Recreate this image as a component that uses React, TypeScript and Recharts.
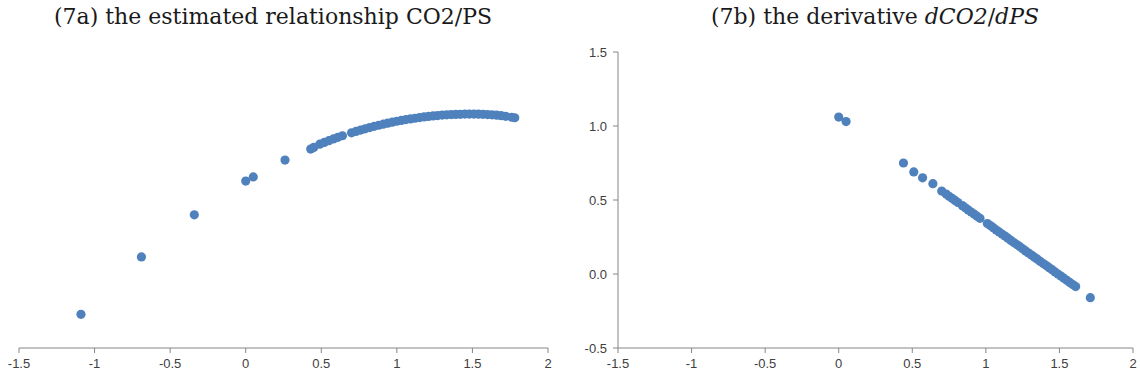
import { ScatterChart, Scatter, XAxis, YAxis } from 'recharts'

// (7a) estimated relationship CO2/PS
const psA = [
  -1.09, -0.69, -0.34, 0.0, 0.05, 0.26, 0.43, 0.45,
  0.49, 0.52, 0.55, 0.58, 0.61, 0.64,
  0.70, 0.73, 0.76, 0.79, 0.82, 0.85, 0.88, 0.91, 0.94, 0.97,
  1.0, 1.03, 1.06, 1.09, 1.12, 1.15, 1.18, 1.21, 1.24, 1.27,
  1.3, 1.33, 1.36, 1.39, 1.42, 1.45, 1.48, 1.51, 1.54, 1.57,
  1.6, 1.63, 1.66, 1.69, 1.72, 1.76, 1.78,
]
const co2A = [
  -1.6, -0.92, -0.42, -0.02, 0.03, 0.23, 0.36, 0.38,
  0.418, 0.439, 0.46, 0.48, 0.499, 0.518,
  0.553, 0.569, 0.585, 0.6, 0.615, 0.63, 0.643, 0.656, 0.668, 0.679,
  0.69, 0.7, 0.71, 0.718, 0.726, 0.734, 0.742, 0.748, 0.753, 0.758,
  0.763, 0.766, 0.769, 0.771, 0.773, 0.775, 0.775, 0.775, 0.774, 0.772,
  0.769, 0.766, 0.762, 0.756, 0.749, 0.738, 0.732,
]

// (7b) derivative dCO2/dPS
const psB = [
  0.0, 0.05, 0.44, 0.51, 0.57, 0.64, 0.7,
  0.73, 0.75, 0.77, 0.79, 0.81, 0.84, 0.86, 0.88, 0.9, 0.92, 0.94, 0.96,
  1.01, 1.03, 1.05, 1.07, 1.09, 1.11, 1.13, 1.15, 1.17, 1.19, 1.21, 1.23,
  1.25, 1.27, 1.29, 1.31, 1.33, 1.35, 1.37, 1.39, 1.41, 1.43, 1.45, 1.47,
  1.49, 1.51, 1.53, 1.55, 1.57, 1.59, 1.61, 1.71,
]
const dB = [
  1.06, 1.03, 0.75, 0.69, 0.65, 0.61, 0.56,
  0.54, 0.525, 0.511, 0.497, 0.483, 0.462, 0.447, 0.433, 0.419, 0.405, 0.391, 0.376,
  0.341, 0.327, 0.313, 0.298, 0.284, 0.27, 0.256, 0.242, 0.227, 0.213, 0.199, 0.185,
  0.17, 0.156, 0.142, 0.128, 0.114, 0.1, 0.085, 0.071, 0.057, 0.043, 0.029, 0.014,
  0.0, -0.014, -0.028, -0.043, -0.057, -0.071, -0.085, -0.16,
]

const xTicks = [-1.5, -1, -0.5, 0, 0.5, 1, 1.5, 2]
const yTicksB = [-0.5, 0, 0.5, 1, 1.5]

const BLUE = '#4F81BD'
const AXIS = '#868686'
const LABEL = '#404040'
const tickFont = { fontSize: 13, fill: LABEL, fontFamily: 'Liberation Sans, Arial, sans-serif' }

const dataA = psA.map((x, i) => ({ x, y: co2A[i] }))
const dataB = psB.map((x, i) => ({ x, y: dB[i] }))

const Dot = (p: any) => <circle cx={p.cx} cy={p.cy} r={4.6} fill={BLUE} />

const titleStyle: React.CSSProperties = {
  position: 'absolute', top: 4, fontFamily: 'DejaVu Serif, serif', fontSize: 22,
  color: '#1a1a1a', textAlign: 'center', whiteSpace: 'nowrap',
}

export default function App() {
  return (
    <div style={{ position: 'absolute', left: 0, top: 0, width: 1140, height: 380, background: '#fff' }}>
      <div style={{ ...titleStyle, left: 0, width: 546 }}>(7a) the estimated relationship CO2/PS</div>
      <div style={{ ...titleStyle, left: 590, width: 570 }}>
        (7b) the derivative <i>dCO2</i>/<i>dPS</i>
      </div>

      <div style={{ position: 'absolute', left: 0, top: 0 }}>
        <ScatterChart width={570} height={380} margin={{ top: 53, right: 22, bottom: 0, left: 19 }}>
          <XAxis type="number" dataKey="x" domain={[-1.5, 2]} ticks={xTicks} height={32}
            allowDataOverflow tickFormatter={v => String(v)} tick={tickFont} tickMargin={6}
            axisLine={{ stroke: AXIS }} tickLine={{ stroke: AXIS }} tickSize={5} />
          <YAxis type="number" dataKey="y" domain={[-2, 1.5]} width={0} tick={false}
            axisLine={{ stroke: AXIS }} tickLine={false} />
          <Scatter data={dataA} shape={Dot} isAnimationActive={false} />
        </ScatterChart>
      </div>

      <div style={{ position: 'absolute', left: 570, top: 0 }}>
        <ScatterChart width={570} height={380} margin={{ top: 52, right: 7, bottom: 0, left: 0 }}>
          <XAxis type="number" dataKey="x" domain={[-1.5, 2]} ticks={xTicks} height={32}
            allowDataOverflow tickFormatter={v => String(v)} tick={tickFont} tickMargin={6}
            axisLine={{ stroke: AXIS }} tickLine={{ stroke: AXIS }} tickSize={5} />
          <YAxis type="number" dataKey="y" domain={[-0.5, 1.5]} ticks={yTicksB} width={48}
            tickFormatter={v => Number(v).toFixed(1)} tick={tickFont} tickMargin={6}
            axisLine={{ stroke: AXIS }} tickLine={{ stroke: AXIS }} tickSize={5} />
          <Scatter data={dataB} shape={Dot} isAnimationActive={false} />
        </ScatterChart>
      </div>
    </div>
  )
}
